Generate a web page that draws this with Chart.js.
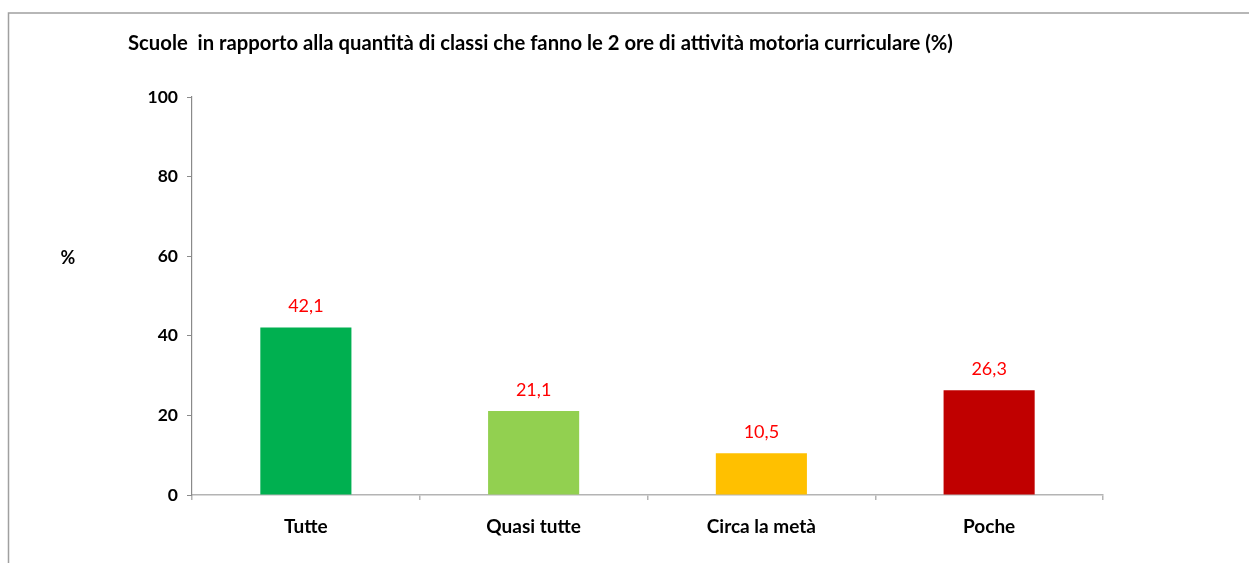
<!DOCTYPE html>
<html>
<head>
<meta charset="utf-8">
<script src="https://cdn.jsdelivr.net/npm/chart.js@4.4.1/dist/chart.umd.min.js"></script>
<style>
  html, body { margin: 0; padding: 0; background: #fff; }
  #wrap { position: relative; width: 1249px; height: 563px; }
</style>
</head>
<body>
<div id="wrap"><canvas id="c" width="1249" height="563"></canvas></div>
<script>
const categories = ["Tutte", "Quasi tutte", "Circa la metà", "Poche"];
const values = [42.1, 21.1, 10.5, 26.3];
const barColors = ["#00B050", "#92D050", "#FFC000", "#C00000"];
const yTicks = [0, 20, 40, 60, 80, 100];
const titleText = "Scuole  in rapporto alla quantità di classi che fanno le 2 ore di attività motoria curriculare (%)";
const yTitle = "%";

const FONT = "Lato, 'Open Sans', sans-serif";

const decor = {
  id: 'decor',
  beforeDraw(chart) {
    const ctx = chart.ctx;
    ctx.save();
    ctx.fillStyle = '#fff';
    ctx.fillRect(0, 0, chart.width, chart.height);
    ctx.strokeStyle = '#a0a0a0';
    ctx.lineWidth = 1.5;
    ctx.beginPath();
    ctx.moveTo(8.5, chart.height + 2);
    ctx.lineTo(8.5, 13);
    ctx.lineTo(chart.width + 2, 13);
    ctx.stroke();
    ctx.restore();
  },
  afterDraw(chart) {
    const ctx = chart.ctx;
    ctx.save();
    // title
    ctx.fillStyle = '#000';
    ctx.font = "bold 16px " + FONT;
    const w = ctx.measureText(titleText).width;
    let size = 16 * 825 / w;
    ctx.font = "bold " + size.toFixed(2) + "px " + FONT;
    ctx.textAlign = 'left';
    ctx.textBaseline = 'middle';
    ctx.fillText(titleText, 128, 43);
    // y title
    ctx.font = "bold 18px " + FONT;
    ctx.textAlign = 'center';
    ctx.fillText(yTitle, 68, 258);
    // data labels
    const meta = chart.getDatasetMeta(0);
    ctx.fillStyle = '#FF0000';
    ctx.font = "18px " + FONT;
    ctx.textBaseline = 'alphabetic';
    meta.data.forEach((bar, i) => {
      ctx.fillText(values[i].toFixed(1).replace('.', ','), bar.x, bar.y - 15);
    });
    ctx.restore();
  }
};

new Chart(document.getElementById('c'), {
  type: 'bar',
  data: {
    labels: categories,
    datasets: [{
      data: values,
      backgroundColor: barColors,
      borderWidth: 0,
      categoryPercentage: 1.0,
      barPercentage: 0.4
    }]
  },
  options: {
    responsive: false,
    animation: false,
    devicePixelRatio: 1,
    layout: { padding: { left: 0, right: 146, top: 97, bottom: 0 } },
    plugins: {
      legend: { display: false },
      title: { display: false },
      tooltip: { enabled: false }
    },
    scales: {
      x: {
        offset: true,
        grid: {
          offset: true,
          drawOnChartArea: false,
          drawTicks: true,
          tickLength: 5,
          color: '#b4b4b4',
          lineWidth: 1.5
        },
        border: { display: true, color: '#b4b4b4', width: 1.5 },
        ticks: {
          color: '#000',
          font: { family: FONT, size: 19, weight: 'bold' },
          padding: 15,
          maxRotation: 0
        },
        afterFit(scale) { scale.height = 68; }
      },
      y: {
        min: 0,
        max: 100,
        afterBuildTicks(scale) { scale.ticks = yTicks.map(v => ({ value: v })); },
        grid: {
          drawOnChartArea: false,
          drawTicks: true,
          tickLength: 5,
          color: '#8a8a8a',
          lineWidth: 1
        },
        border: { display: true, color: '#8a8a8a', width: 1.2 },
        ticks: {
          color: '#000',
          font: { family: FONT, size: 17.5, weight: 'bold' },
          padding: 9
        },
        afterFit(scale) { scale.width = 192; }
      }
    }
  },
  plugins: [decor]
});
</script>
</body>
</html>
